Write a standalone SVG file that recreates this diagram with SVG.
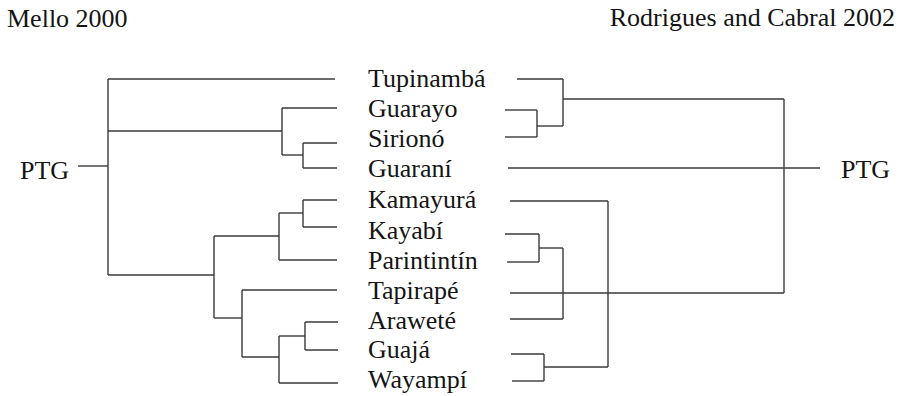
<svg xmlns="http://www.w3.org/2000/svg" width="901" height="396" viewBox="0 0 901 396">
<style>
text{font-family:"Liberation Serif","Times New Roman",serif;font-size:26px;fill:#141414}
.c path{fill:none;stroke:#3a3a3a;stroke-width:1.4}
</style>
<rect width="901" height="396" fill="#fff"/>
<g id="title-left"><text x="7" y="27">Mello 2000</text></g>
<g id="title-right"><text x="895" y="26" text-anchor="end">Rodrigues and Cabral 2002</text></g>
<g id="ptg-left"><text x="20" y="179">PTG</text></g>
<g id="ptg-right"><text x="841" y="178">PTG</text></g>
<g id="tupinamba"><text x="368" y="87">Tupinambá</text></g>
<g id="guarayo"><text x="368" y="117">Guarayo</text></g>
<g id="siriono"><text x="368" y="147">Sirionó</text></g>
<g id="guarani"><text x="368" y="177">Guaraní</text></g>
<g id="kamayura"><text x="368" y="208">Kamayurá</text></g>
<g id="kayabi"><text x="368" y="239">Kayabí</text></g>
<g id="parintintin"><text x="368" y="269">Parintintín</text></g>
<g id="tapirape"><text x="368" y="299">Tapirapé</text></g>
<g id="arawete"><text x="368" y="329">Araweté</text></g>
<g id="guaja"><text x="368" y="358">Guajá</text></g>
<g id="wayampi"><text x="368" y="388">Wayampí</text></g>
<g id="connectors" class="c">
<!-- left tree (Mello 2000) -->
<path d="M78 166H108"/>
<path d="M108 79V275"/>
<path d="M108 79H335"/>
<path d="M108 131H282"/>
<path d="M282 108V155"/>
<path d="M282 108H337"/>
<path d="M282 155H303"/>
<path d="M303 143V168"/>
<path d="M303 143H337"/>
<path d="M303 168H337"/>
<path d="M108 275H214"/>
<path d="M214 236V318"/>
<path d="M214 236H279"/>
<path d="M279 213V260"/>
<path d="M279 213H303"/>
<path d="M303 200V227"/>
<path d="M303 200H337"/>
<path d="M303 227H337"/>
<path d="M279 260H337"/>
<path d="M214 318H242"/>
<path d="M242 290V357"/>
<path d="M242 290H337"/>
<path d="M242 357H279"/>
<path d="M279 336V383"/>
<path d="M279 336H305"/>
<path d="M305 322V350"/>
<path d="M305 322H338"/>
<path d="M305 350H338"/>
<path d="M279 383H338"/>
<!-- right tree (Rodrigues and Cabral 2002) -->
<path d="M820 168H508"/>
<path d="M784 99V293"/>
<path d="M784 99H563"/>
<path d="M563 79V126"/>
<path d="M563 79H517"/>
<path d="M563 126H537"/>
<path d="M537 110V137"/>
<path d="M537 110H505"/>
<path d="M537 137H505"/>
<path d="M784 293H510"/>
<path d="M608 201V367"/>
<path d="M608 201H510"/>
<path d="M608 367H544"/>
<path d="M544 354V381"/>
<path d="M544 354H511"/>
<path d="M544 381H512"/>
<path d="M563 248V319"/>
<path d="M563 248H539"/>
<path d="M563 319H510"/>
<path d="M539 234V262"/>
<path d="M539 234H505"/>
<path d="M539 262H507"/>
</g>
</svg>
